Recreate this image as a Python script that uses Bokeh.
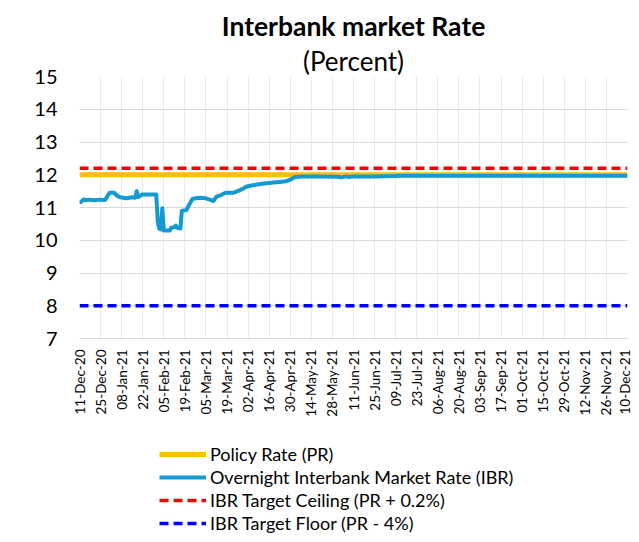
import math
import pandas as pd
from bokeh.plotting import figure
from bokeh.layouts import column
from bokeh.models import (Range1d, FixedTicker, DatetimeTickFormatter, Legend,
                          LegendItem, Title)
from bokeh.embed import file_html
from bokeh.resources import INLINE

# ---------------- data ----------------
tick_labels = ["11-Dec-20", "25-Dec-20", "08-Jan-21", "22-Jan-21", "05-Feb-21",
               "19-Feb-21", "05-Mar-21", "19-Mar-21", "02-Apr-21", "16-Apr-21",
               "30-Apr-21", "14-May-21", "28-May-21", "11-Jun-21", "25-Jun-21",
               "09-Jul-21", "23-Jul-21", "06-Aug-21", "20-Aug-21", "03-Sep-21",
               "17-Sep-21", "01-Oct-21", "15-Oct-21", "29-Oct-21", "12-Nov-21",
               "26-Nov-21", "10-Dec-21"]
y_ticks = [7, 8, 9, 10, 11, 12, 13, 14, 15]

ibr_dates = ["2020-12-11", "2020-12-12", "2020-12-14", "2020-12-15", "2020-12-17",
             "2020-12-21", "2020-12-24", "2020-12-28", "2020-12-30", "2020-12-31",
             "2021-01-03", "2021-01-05", "2021-01-07", "2021-01-11", "2021-01-13",
             "2021-01-15", "2021-01-17", "2021-01-18", "2021-01-19", "2021-01-21",
             "2021-01-22", "2021-01-26", "2021-01-31", "2021-02-01", "2021-02-02",
             "2021-02-03", "2021-02-04", "2021-02-05", "2021-02-07", "2021-02-09",
             "2021-02-10", "2021-02-12", "2021-02-13", "2021-02-14", "2021-02-16",
             "2021-02-17", "2021-02-20", "2021-02-22", "2021-02-24", "2021-02-27",
             "2021-03-01", "2021-03-05", "2021-03-09", "2021-03-10", "2021-03-12",
             "2021-03-15", "2021-03-18", "2021-03-23", "2021-03-26", "2021-03-29",
             "2021-04-01", "2021-04-05", "2021-04-09", "2021-04-14", "2021-04-19",
             "2021-04-23", "2021-04-27", "2021-04-30", "2021-05-03", "2021-05-08",
             "2021-05-20", "2021-06-01", "2021-06-03", "2021-06-06", "2021-06-08",
             "2021-06-10", "2021-06-25", "2021-07-09", "2021-07-10", "2021-12-10"]
ibr_values = [11.13, 11.18, 11.25, 11.22, 11.24,
              11.22, 11.24, 11.23, 11.38, 11.45,
              11.45, 11.36, 11.31, 11.28, 11.30,
              11.31, 11.30, 11.50, 11.32, 11.38,
              11.40, 11.40, 11.40, 10.55, 10.35,
              10.33, 10.98, 10.30, 10.30, 10.30,
              10.38, 10.40, 10.45, 10.38, 10.36,
              10.90, 10.92, 11.10, 11.26, 11.29,
              11.30, 11.28, 11.22, 11.20, 11.33,
              11.38, 11.45, 11.45, 11.50, 11.56,
              11.64, 11.68, 11.71, 11.74, 11.76,
              11.78, 11.80, 11.85, 11.93, 11.95,
              11.95, 11.94, 11.92, 11.95, 11.93,
              11.95, 11.95, 11.96, 11.97, 11.97]

ref_dates = ["2020-12-11", "2021-12-10"]
policy_rate = [12.0, 12.0]
ibr_ceiling = [12.2, 12.2]
ibr_floor = [8.0, 8.0]

series_names = ["Policy Rate (PR)", "Overnight Interbank Market Rate (IBR)",
                "IBR Target Ceiling (PR + 0.2%)", "IBR Target Floor (PR - 4%)"]

# ---------------- build ----------------
tick_dt = pd.to_datetime(tick_labels, format="%d-%b-%y")
tick_ms = [int(d.timestamp() * 1000) for d in tick_dt]
ibr_dt = pd.to_datetime(ibr_dates)
ref_dt = pd.to_datetime(ref_dates)

FONT = "Lato"
C_PR, C_IBR, C_CEIL, C_FLOOR = "#FFC000", "#139BD1", "#FF0000", "#0000FF"


def draw_series(fig):
    r1 = fig.line(ref_dt, policy_rate, line_color=C_PR, line_width=5)
    r2 = fig.line(ibr_dt, ibr_values, line_color=C_IBR, line_width=4,
                  line_join="round")
    r3 = fig.line(ref_dt, ibr_ceiling, line_color=C_CEIL, line_width=3.5,
                  line_dash="9 5")
    r4 = fig.line(ref_dt, ibr_floor, line_color=C_FLOOR, line_width=3.5,
                  line_dash="9 5")
    return [r1, r2, r3, r4]


p = figure(width=632, height=430, x_axis_type="datetime",
           x_range=Range1d(tick_ms[0], tick_ms[-1]), y_range=Range1d(7, 15),
           output_backend="svg", toolbar_location=None, title=None,
           min_border_left=79, min_border_right=5, min_border_top=76,
           min_border_bottom=92)
p.outline_line_color = None
p.background_fill_color = "white"
p.border_fill_color = "white"

# axes
p.xaxis.ticker = FixedTicker(ticks=tick_ms)
p.xaxis.formatter = DatetimeTickFormatter(days="%d-%b-%y", months="%d-%b-%y",
                                          years="%d-%b-%y", strip_leading_zeros=False)
p.xaxis.major_label_orientation = math.pi / 2
p.xaxis.major_label_text_font = FONT
p.xaxis.major_label_text_font_size = "13.5px"
p.xaxis.major_label_text_color = "#000000"
p.xaxis.major_tick_out = 0
p.xaxis.major_tick_in = 0
p.xaxis.major_label_standoff = 11
p.xaxis.major_tick_line_color = None
p.xaxis.minor_tick_line_color = None
p.xaxis.axis_line_color = "#D9D9D9"
p.xaxis.axis_line_width = 1

p.yaxis.ticker = FixedTicker(ticks=y_ticks)
p.yaxis.major_label_text_font = FONT
p.yaxis.major_label_text_font_size = "20px"
p.yaxis.major_label_text_color = "#000000"
p.yaxis.major_tick_out = 0
p.yaxis.major_tick_in = 0
p.yaxis.major_label_standoff = 22
p.yaxis.major_tick_line_color = None
p.yaxis.minor_tick_line_color = None
p.yaxis.axis_line_color = None

p.ygrid.grid_line_color = "#D9D9D9"
p.xgrid.grid_line_color = "#EBEBEB"

draw_series(p)

sub = Title(text="(Percent)", align="center", text_font=FONT,
            text_font_size="26px", text_font_style="normal",
            text_color="#000000", standoff=0)
main = Title(text="Interbank market Rate", align="center", text_font=FONT,
             text_font_size="26.5px", text_font_style="bold",
             text_color="#000000", standoff=1)
p.add_layout(sub, "above")
p.add_layout(main, "above")

# ---------------- legend strip below the chart ----------------
lg = figure(width=632, height=112, x_axis_type="datetime",
            x_range=Range1d(tick_ms[0], tick_ms[-1]), y_range=Range1d(100, 101),
            output_backend="svg", toolbar_location=None, title=None,
            min_border=0, x_axis_location=None, y_axis_location=None)
lg.outline_line_color = None
lg.xgrid.visible = False
lg.ygrid.visible = False
lg.background_fill_color = "white"
lg.border_fill_color = "white"
lg_renderers = draw_series(lg)

legend = Legend(items=[LegendItem(label=n, renderers=[r])
                       for n, r in zip(series_names, lg_renderers)],
                location=(80, 8))
legend.border_line_color = None
legend.background_fill_alpha = 0
legend.glyph_width = 47
legend.glyph_height = 20
legend.label_height = 23
legend.spacing = 0
legend.padding = 0
legend.margin = 0
legend.label_standoff = 4
legend.label_text_font = FONT
legend.label_text_font_size = "18px"
legend.label_text_color = "#000000"
lg.add_layout(legend, "center")

layout = column(p, lg, spacing=0)
open("out.html", "w").write(file_html(layout, INLINE))
